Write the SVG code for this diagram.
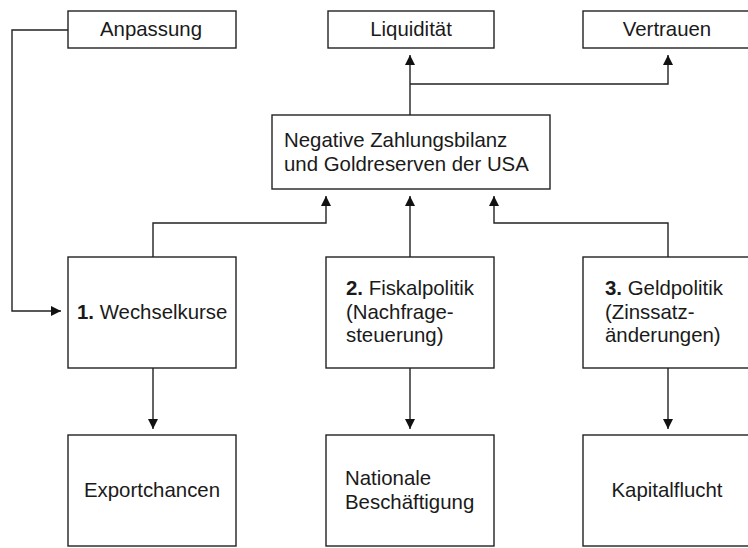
<svg xmlns="http://www.w3.org/2000/svg" width="748" height="548" viewBox="0 0 748 548">
<style>
  .box { fill: #ffffff; stroke: #222222; stroke-width: 1.4; }
  .lbl { font-family: "Liberation Sans", Arial, Helvetica, sans-serif; font-size: 20.4px; fill: #1a1a1a; }
  .c { text-anchor: middle; }
  .b { font-weight: bold; }
  .conn { fill: none; stroke: #222222; stroke-width: 1.4; marker-end: url(#arr); }
</style>
<defs>
  <marker id="arr" markerUnits="userSpaceOnUse" markerWidth="11" markerHeight="11" refX="10" refY="5.5" orient="auto" viewBox="0 0 10 11">
    <path d="M0,0.5 L10,5.5 L0,10.5 z" fill="#111111"/>
  </marker>
</defs>
<rect width="748" height="548" fill="#ffffff"/>

<g id="connectors">
  <path class="conn" d="M68,30 H12 V311 H61"/>
  <path class="conn" d="M410,115 V55"/>
  <path class="conn" d="M410,84 H668 V55"/>
  <path class="conn" d="M153,257 V223 H326 V196"/>
  <path class="conn" d="M410,257 V196"/>
  <path class="conn" d="M668,257 V223 H494 V196"/>
  <path class="conn" d="M153,368 V429"/>
  <path class="conn" d="M410,368 V429"/>
  <path class="conn" d="M668,368 V429"/>
</g>

<g id="anpassung">
  <rect class="box" x="68" y="11" width="168" height="37"/>
  <text class="lbl c" x="151" y="36">Anpassung</text>
</g>
<g id="liquiditaet">
  <rect class="box" x="328" y="11" width="166" height="37"/>
  <text class="lbl c" x="411" y="36">Liquidität</text>
</g>
<g id="vertrauen">
  <rect class="box" x="583" y="11" width="170" height="37"/>
  <text class="lbl c" x="667" y="36">Vertrauen</text>
</g>
<g id="zahlungsbilanz">
  <rect class="box" x="272" y="115" width="278" height="74"/>
  <text class="lbl" x="284" y="147">Negative Zahlungsbilanz</text>
  <text class="lbl" x="284" y="171">und Goldreserven der USA</text>
</g>
<g id="wechselkurse">
  <rect class="box" x="68" y="257" width="168" height="111"/>
  <text class="lbl" x="77" y="319"><tspan class="b">1.</tspan> Wechselkurse</text>
</g>
<g id="fiskalpolitik">
  <rect class="box" x="326" y="257" width="168" height="111"/>
  <text class="lbl" x="346" y="295"><tspan class="b">2.</tspan> Fiskalpolitik</text>
  <text class="lbl" x="346" y="318.5">(Nachfrage-</text>
  <text class="lbl" x="346" y="342">steuerung)</text>
</g>
<g id="geldpolitik">
  <rect class="box" x="583" y="257" width="170" height="111"/>
  <text class="lbl" x="605" y="295"><tspan class="b">3.</tspan> Geldpolitik</text>
  <text class="lbl" x="605" y="318.5">(Zinssatz-</text>
  <text class="lbl" x="605" y="342">änderungen)</text>
</g>
<g id="exportchancen">
  <rect class="box" x="68" y="435" width="168" height="111"/>
  <text class="lbl c" x="152" y="497">Exportchancen</text>
</g>
<g id="beschaeftigung">
  <rect class="box" x="326" y="435" width="168" height="111"/>
  <text class="lbl" x="345" y="485">Nationale</text>
  <text class="lbl" x="345" y="509">Beschäftigung</text>
</g>
<g id="kapitalflucht">
  <rect class="box" x="583" y="435" width="170" height="111"/>
  <text class="lbl c" x="667" y="497">Kapitalflucht</text>
</g>
</svg>
